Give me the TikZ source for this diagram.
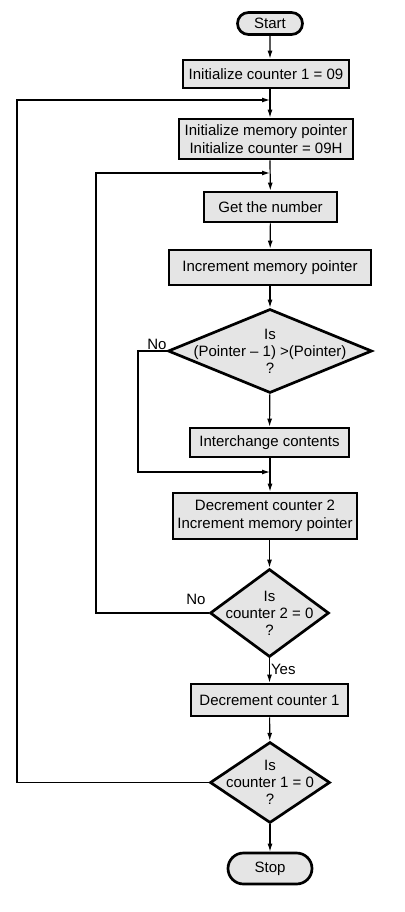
\documentclass[tikz,border=0pt]{standalone}
\usepackage{fontspec}
\setmainfont{Liberation Sans}
\usetikzlibrary{shapes.geometric,shapes.misc,arrows.meta}

\begin{document}
\begin{tikzpicture}[x=1pt,y=-1pt,
  font=\fontsize{15}{18}\selectfont,
  >={Latex[length=8pt,width=5pt]},
  stepbox/.style={draw,line width=2.7pt,fill=black!10,inner sep=0pt,align=center},
  termbox/.style={draw,line width=2.7pt,fill=black!10,rounded rectangle,inner sep=0pt},
  decision/.style={draw,line width=2.7pt,fill=black!10,diamond,inner sep=0pt},
  flow/.style={line width=1.2pt}]
\useasboundingbox (0,0) rectangle (404,912);

\node[termbox,minimum width=65,minimum height=22] (start) at (270,23.5) {Start};
\node[stepbox,minimum width=166,minimum height=28] (cnt1) at (266,74) {Initialize counter 1 = 09};
\node[stepbox,minimum width=174,minimum height=40] (init) at (266,139) {Initialize memory pointer\\Initialize counter = 09H};
\node[stepbox,minimum width=133,minimum height=30] (get) at (270.5,207) {Get the number};
\node[stepbox,minimum width=202,minimum height=35] (incr) at (270,267.5) {Increment memory pointer};
\node[decision,minimum width=204,minimum height=84] (cmp) at (270,351) {};
\node[align=center,font=\fontsize{15}{17}\selectfont] (cmptxt) at (270,351) {Is\\(Pointer -- 1) >(Pointer)\\?};
\node[stepbox,minimum width=159,minimum height=29] (swap) at (269.5,442.5) {Interchange contents};
\node[stepbox,minimum width=184,minimum height=46] (dec2) at (265,516) {Decrement counter 2\\Increment memory pointer};
\node[decision,minimum width=119,minimum height=88] (zero2) at (269.5,613) {};
\node[align=center,font=\fontsize{15}{17}\selectfont] (zero2txt) at (269.5,613) {Is\\counter 2 = 0\\?};
\node[stepbox,minimum width=157,minimum height=32] (dec1) at (269.5,700) {Decrement counter 1};
\node[decision,minimum width=120,minimum height=81] (zero1) at (270,782.5) {};
\node[align=center,font=\fontsize{15}{17}\selectfont] (zero1txt) at (270,782.5) {Is\\counter 1 = 0\\?};
\node[termbox,minimum width=84,minimum height=31] (stop) at (270,868.5) {Stop};

% joins on the main line
\coordinate (j1) at (270,100);
\coordinate (j2) at (270,173);
\coordinate (j3) at (270,472);

\draw[flow,->] (start) -- (cnt1.north -| start);
\draw[flow,->] (cnt1.south -| j1) -- (init.north -| j1);
\draw[flow,->] (init.south -| j2) -- (get);
\draw[flow,->] (get) -- (incr);
\draw[flow,->] (incr) -- (cmp);
\draw[flow,->] (cmp) -- (swap);
\draw[flow,->] (swap.south -| j3) -- (dec2.north -| j3);
\draw[flow,->] (dec2.south -| zero2) -- (zero2);
\draw[flow,->] (zero2) -- (dec1) node[pos=0.45,right,inner sep=1pt] (yes) {Yes};
\draw[flow,->] (dec1) -- (zero1);
\draw[flow,->] (zero1) -- (stop);

% loops back
\draw[flow,->] (cmp.west) -- (138,351) -- (138,472) -- (j3);
\node (no1) at (157,344) {No};
\draw[flow,->] (zero2.west) -- (96,613) -- (96,173) -- (j2);
\node (no2) at (196,599) {No};
\draw[flow,->] (zero1.west) -- (17,782.5) -- (17,100) -- (j1);
\end{tikzpicture}
\end{document}
